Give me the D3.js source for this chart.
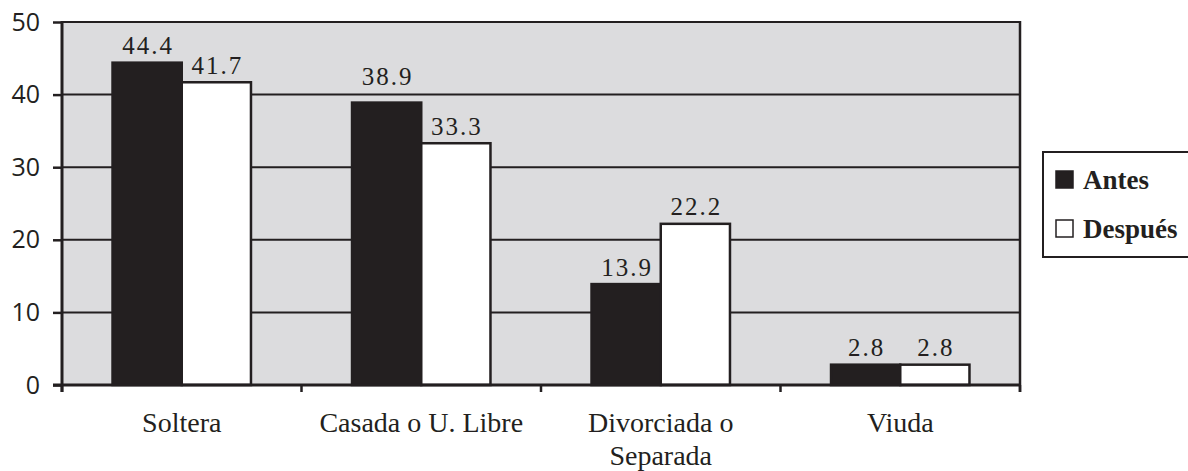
<!DOCTYPE html>
<html><head><meta charset="utf-8">
<script src="https://cdn.jsdelivr.net/npm/d3@7"></script>
<style>body{margin:0;background:#fff}</style>
</head><body>
<svg id="c" width="1188" height="471"></svg>
<script>
const categories = ["Soltera", "Casada o U. Libre", "Divorciada o\nSeparada", "Viuda"];
const antes = [44.4, 38.9, 13.9, 2.8];
const despues = [41.7, 33.3, 22.2, 2.8];
const seriesNames = ["Antes", "Después"];
const yTicks = [0, 10, 20, 30, 40, 50];

const svg = d3.select("#c");
const L = 62, R = 1020, T = 22, B = 385;
const x = d3.scaleBand().domain(categories).range([L, R]).paddingInner(0).paddingOuter(0);
const y = d3.scaleLinear().domain([0, 50]).range([B, T]);
const inner = d3.scaleBand().domain(seriesNames).range([0, x.bandwidth()]).paddingInner(0).paddingOuter(0.73);

svg.append("rect").attr("x", L).attr("y", T).attr("width", R - L).attr("height", B - T).attr("fill", "#dcdcde");

// gridlines
svg.append("g").selectAll("line").data(yTicks.filter(d => d > 0)).join("line")
  .attr("x1", L).attr("x2", R).attr("y1", d => y(d)).attr("y2", d => y(d))
  .attr("stroke", "#231f20").attr("stroke-width", 2);
svg.append("line").attr("x1", R).attr("x2", R).attr("y1", T - 1).attr("y2", B + 7).attr("stroke", "#231f20").attr("stroke-width", 2.5);

// label position: above the bar, or above a gridline that would cross the label
function labelY(v) {
  const top = y(v);
  const hit = yTicks.find(t => y(t) < top && y(t) > top - 28);
  return hit !== undefined ? y(hit) - 10 : top - 8.5;
}

const data = categories.map((c, i) => ({c, vals: [{s: "Antes", v: antes[i]}, {s: "Después", v: despues[i]}]}));
const g = svg.append("g").selectAll("g").data(data).join("g").attr("transform", d => `translate(${x(d.c)},0)`);
g.selectAll("rect").data(d => d.vals).join("rect")
  .attr("x", d => inner(d.s)).attr("y", d => y(d.v))
  .attr("width", inner.bandwidth()).attr("height", d => B - y(d.v))
  .attr("fill", d => d.s === "Antes" ? "#231f20" : "#ffffff")
  .attr("stroke", "#231f20").attr("stroke-width", 2.5);
g.selectAll("text").data(d => d.vals).join("text")
  .attr("x", d => inner(d.s) + inner.bandwidth() / 2 + 1).attr("y", d => labelY(d.v))
  .attr("text-anchor", "middle").attr("font-family", "Liberation Serif").attr("font-size", 25)
  .attr("letter-spacing", 2).attr("fill", "#231f20").text(d => d.v.toFixed(1));

// y axis
const ya = svg.append("g").attr("transform", `translate(${L},0)`)
  .call(d3.axisLeft(y).tickValues(yTicks).tickSize(9).tickPadding(13).tickFormat(d3.format("d")));
ya.select(".domain").remove();
ya.selectAll("line").attr("stroke", "#231f20").attr("stroke-width", 2.5);
ya.selectAll("text").attr("font-family", "Open Sans").attr("font-size", 25).attr("fill", "#231f20");
svg.append("line").attr("x1", L).attr("x2", L).attr("y1", T - 1).attr("y2", B + 7).attr("stroke", "#231f20").attr("stroke-width", 3);
svg.append("line").attr("x1", L - 9).attr("x2", R + 1).attr("y1", B).attr("y2", B).attr("stroke", "#231f20").attr("stroke-width", 3);

// category boundary ticks
const bounds = categories.map(c => x(c)).concat([R]);
svg.append("g").selectAll("line").data(bounds).join("line")
  .attr("x1", d => d).attr("x2", d => d).attr("y1", B).attr("y2", B + 7)
  .attr("stroke", "#231f20").attr("stroke-width", 2.5);

// x labels
svg.append("g").selectAll("text").data(categories).join("text")
  .attr("x", d => x(d) + x.bandwidth() / 2).attr("y", 432)
  .attr("text-anchor", "middle").attr("font-family", "Liberation Serif").attr("font-size", 28).attr("fill", "#231f20")
  .each(function(d) {
    const lines = d.split("\n");
    d3.select(this).selectAll("tspan").data(lines).join("tspan")
      .attr("x", x(d) + x.bandwidth() / 2).attr("dy", (l, i) => i === 0 ? 0 : 33).text(l => l);
  });

// legend
const lg = svg.append("g");
lg.append("rect").attr("x", 1043).attr("y", 152).attr("width", 160).attr("height", 105)
  .attr("fill", "#fff").attr("stroke", "#231f20").attr("stroke-width", 2);
seriesNames.forEach((s, i) => {
  const yy = 171 + i * 49;
  lg.append("rect").attr("x", 1056).attr("y", yy).attr("width", 17).attr("height", 17)
    .attr("fill", i === 0 ? "#231f20" : "#fff").attr("stroke", "#231f20").attr("stroke-width", 1.5);
  lg.append("text").attr("x", 1083).attr("y", yy + 18).attr("font-family", "Liberation Serif")
    .attr("font-weight", "bold").attr("font-size", 27).attr("fill", "#231f20").text(s);
});
</script>
</body></html>
